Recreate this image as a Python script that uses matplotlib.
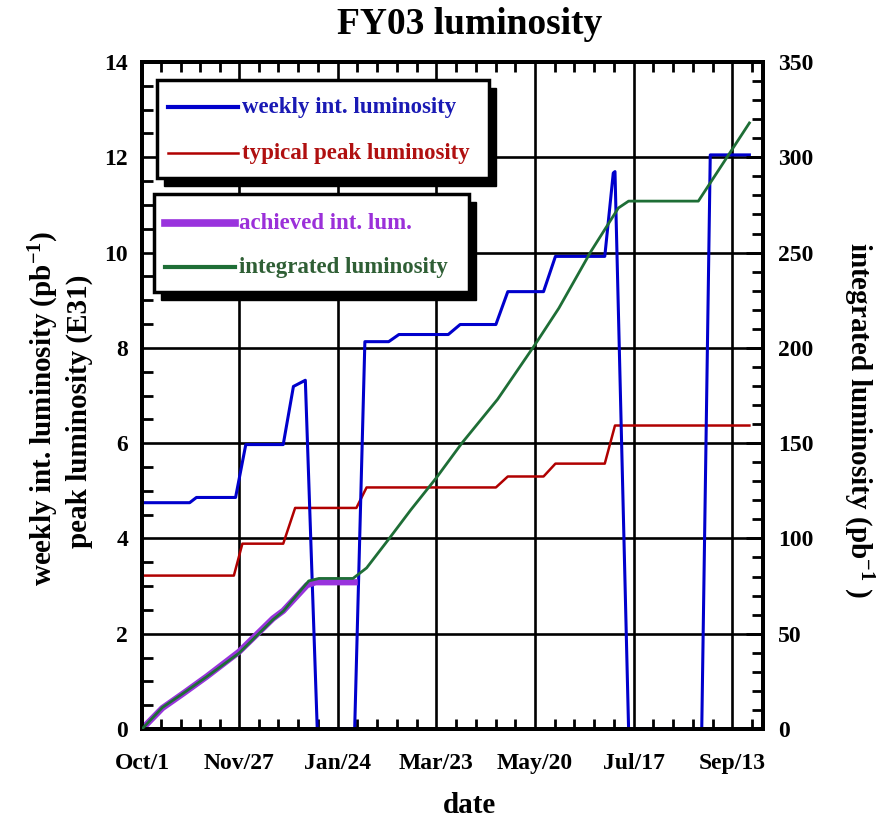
import matplotlib
matplotlib.use("Agg")
import matplotlib.pyplot as plt
from matplotlib.patches import Rectangle
from matplotlib.lines import Line2D
from matplotlib.ticker import FixedLocator, MultipleLocator

# Times-like bold everywhere
plt.rcParams['font.family'] = ['Liberation Serif', 'DejaVu Serif']
plt.rcParams['font.weight'] = 'bold'
plt.rcParams['mathtext.fontset'] = 'custom'
plt.rcParams['mathtext.rm'] = 'Liberation Serif:bold'
plt.rcParams['mathtext.default'] = 'rm'

# PART 1 THE DATA (x = days since Oct 1 2002)

tick_days = [0, 57, 115, 173, 231, 289, 347]
tick_labels = ["Oct/1", "Nov/27", "Jan/24", "Mar/23", "May/20", "Jul/17", "Sep/13"]

# weekly int. luminosity (pb-1), left axis
weekly_days = [0, 28, 32, 55, 61, 83, 89, 96, 103, 125, 131, 145, 151, 180,
               187, 208, 215, 236, 243, 272, 277, 278, 286, 329, 334, 357]
weekly_lum = [4.75, 4.75, 4.86, 4.86, 5.97, 5.97, 7.19, 7.32, 0, 0, 8.13, 8.13, 8.28, 8.28,
              8.49, 8.49, 9.18, 9.18, 9.92, 9.92, 11.67, 11.70, 0, 0, 12.05, 12.05]

# typical peak luminosity (E31), left axis
peak_days = [0, 54, 59, 83, 90, 126, 132, 208, 215, 236, 243, 272, 278, 357]
peak_lum = [3.22, 3.22, 3.89, 3.89, 4.64, 4.64, 5.07, 5.07, 5.30, 5.30, 5.57, 5.57, 6.37, 6.37]

# integrated luminosity (pb-1), right axis
int_days = [0, 12, 24, 38, 57, 77, 83, 98, 104, 124, 132, 145, 158, 173,
            188, 209, 231, 245, 264, 280, 286, 327, 357]
int_lum = [0, 11.3, 18.6, 27.4, 39.8, 57.4, 61.8, 77.7, 79, 79, 84.5, 99.6, 115, 131.8,
           150, 173, 201.7, 220.8, 250.8, 273.4, 277, 277, 318]

# achieved int. lum. (pb-1), right axis
ach_days = [0, 12, 24, 38, 57, 77, 83, 97, 102, 125]
ach_lum = [0, 11, 18.5, 27.5, 40.5, 58, 62, 75.5, 77, 77]

W, H = 884, 822


def fx(px):
    return px / W


def fy(py):
    return 1 - py / H


def minor_days():
    # 4 minor ticks inside each major interval
    out = []
    for a, b in zip(tick_days[:-1], tick_days[1:]):
        for k in range(1, 5):
            out.append(a + k * (b - a) / 5)
    out.append(tick_days[-1] + 11.6)
    return out


# PART 2 THE PLOT

fig = plt.figure(figsize=(W / 100, H / 100), dpi=100)
ax = fig.add_axes([fx(142), fy(729), fx(763) - fx(142), fy(62) - fy(729)])
ax2 = ax.twinx()

ax.set_xlim(0, 365)
ax.set_ylim(0, 14)
ax2.set_ylim(0, 350)

ax.plot(peak_days, peak_lum, color='#b00000', lw=1.8, zorder=3)
ax.plot(weekly_days, weekly_lum, color='#0000cc', lw=2.2, zorder=4)
ax2.plot(ach_days, ach_lum, color='#9933dd', lw=4.5, zorder=2)
ax2.plot(int_days, int_lum, color='#1e6e36', lw=2.0, zorder=3)

ax.xaxis.set_major_locator(FixedLocator(tick_days))
ax.set_xticklabels(tick_labels)
ax.xaxis.set_minor_locator(FixedLocator(minor_days()))
ax.yaxis.set_major_locator(MultipleLocator(2))
ax.yaxis.set_minor_locator(MultipleLocator(0.5))
ax2.yaxis.set_major_locator(MultipleLocator(50))
ax2.yaxis.set_minor_locator(MultipleLocator(10))

ax.grid(True, which='major', color='black', lw=1.9)
ax.set_axisbelow(True)

ax.tick_params(axis='x', which='both', direction='in', top=True, width=2, labelsize=17, pad=17)
ax.tick_params(axis='x', which='major', length=0)
ax.tick_params(axis='x', which='minor', length=7)
ax.tick_params(axis='y', which='both', direction='in', width=2, labelsize=17, pad=10)
ax.tick_params(axis='y', which='major', length=0)
ax.tick_params(axis='y', which='minor', length=8)
ax2.tick_params(axis='y', which='both', direction='in', width=2, labelsize=17, pad=11)
ax2.tick_params(axis='y', which='major', length=12)
ax2.tick_params(axis='y', which='minor', length=8)

for a in (ax, ax2):
    for s in a.spines.values():
        s.set_linewidth(2.8)

# titles and axis labels
fig.text(fx(470), fy(25), "FY03 luminosity", fontsize=27, ha='center', va='center')
fig.text(fx(470), fy(805), "date", fontsize=21, ha='center', va='center')
fig.text(fx(44), fy(408), r"weekly int. luminosity (pb$^{-1}$)", fontsize=21,
         rotation=90, ha='center', va='center')
fig.text(fx(79), fy(411), "peak luminosity (E31)", fontsize=21,
         rotation=90, ha='center', va='center')
fig.text(fx(858), fy(420), r"integrated luminosity (pb$^{-1}$ )", fontsize=21,
         rotation=270, ha='center', va='center')


# legend boxes with a black drop shadow
def legend_box(x0, y0, x1, y1, entries):
    shadow = Rectangle((fx(x0 + 7), fy(y1 + 8)), fx(x1) - fx(x0), fy(y0) - fy(y1),
                       transform=fig.transFigure, facecolor='black', edgecolor='black', zorder=5)
    box = Rectangle((fx(x0), fy(y1)), fx(x1) - fx(x0), fy(y0) - fy(y1),
                    transform=fig.transFigure, facecolor='white', edgecolor='black',
                    lw=2.5, zorder=6)
    fig.add_artist(shadow)
    fig.add_artist(box)
    for y, label, lcol, tcol, lw in entries:
        fig.add_artist(Line2D([fx(x0 + 11), fx(x0 + 81)], [fy(y), fy(y)],
                              color=lcol, lw=lw, transform=fig.transFigure, zorder=7))
        fig.text(fx(x0 + 85), fy(y), label, color=tcol, fontsize=16.5,
                 ha='left', va='center', zorder=8)


legend_box(157, 80, 489, 178, [
    (107, "weekly int. luminosity", '#0000cc', '#1a1ab4', 3.0),
    (153, "typical peak luminosity", '#b00000', '#b01010', 1.8),
])
legend_box(154, 194, 469, 292, [
    (223, "achieved int. lum.", '#9933dd', '#9b30d9', 5.5),
    (267, "integrated luminosity", '#1e6e36', '#2f5f35', 3.0),
])

fig.savefig("out.png", dpi=100)
